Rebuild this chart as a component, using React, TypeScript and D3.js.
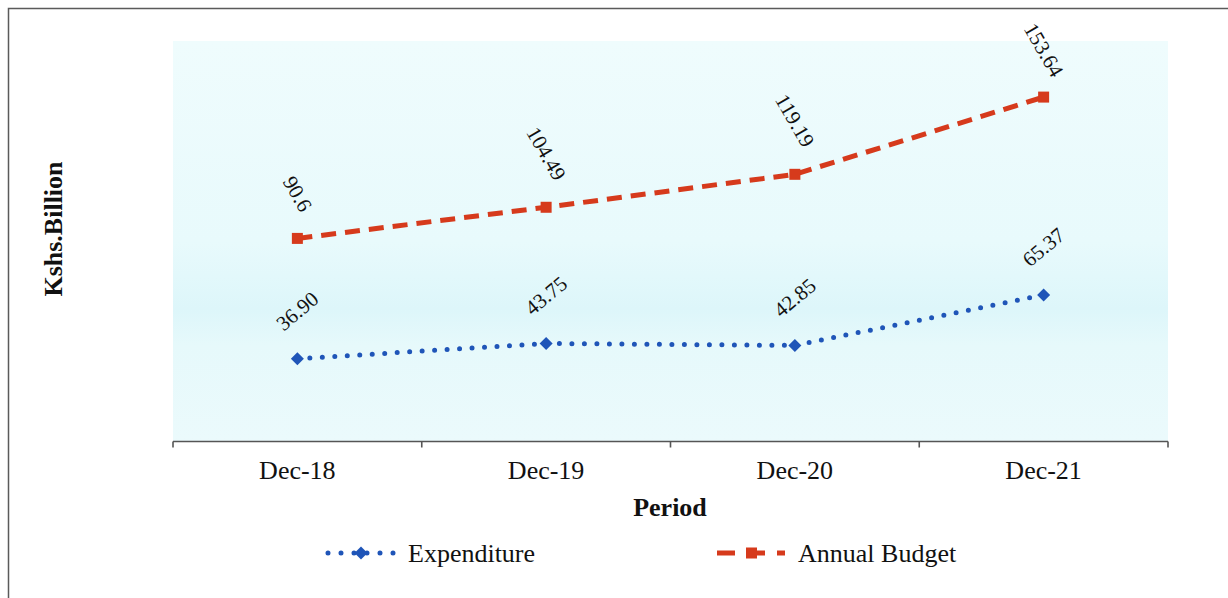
import React from "react";
import * as d3 from "d3";

const categories = ["Dec-18", "Dec-19", "Dec-20", "Dec-21"];
const expenditure = [36.9, 43.75, 42.85, 65.37];
const expenditureLabels = ["36.90", "43.75", "42.85", "65.37"];
const annualBudget = [90.6, 104.49, 119.19, 153.64];
const budgetLabels = ["90.6", "104.49", "119.19", "153.64"];
const yDomain = [0, 180];

const W = 1228;
const H = 598;
const plot = { left: 173, right: 1168, top: 38, bottom: 441.5, bgTop: 41 };
const RED = "#d63a1c";
const BLUE = "#1f55b8";
const FONT = "'Liberation Serif', 'Times New Roman', serif";
const LABEL_SIZE = 21;

function textLen(s: string, size: number) {
  let w = 0;
  for (const ch of s) w += ch === "." ? 0.25 : 0.5;
  return w * size;
}

function labelCenter(px: number, py: number, s: string, angleDeg: number, gap: number) {
  const a = (Math.abs(angleDeg) * Math.PI) / 180;
  const L = textLen(s, LABEL_SIZE);
  const h = 0.68 * LABEL_SIZE;
  const bboxH = L * Math.sin(a) + h * Math.cos(a);
  return [px, py - gap - bboxH / 2];
}

export default function App() {
  const x = d3.scaleBand<string>().domain(categories).range([plot.left, plot.right]).padding(0);
  const y = d3.scaleLinear().domain(yDomain).range([plot.bottom, plot.top]);
  const cx = (c: string) => (x(c) as number) + x.bandwidth() / 2;

  const line = d3
    .line<number>()
    .x((_, i) => cx(categories[i]))
    .y((d) => y(d));

  const tickPositions = [...categories.map((c) => x(c) as number), plot.right];

  const diamond = (px: number, py: number, r: number) =>
    `M${px},${py - r}L${px + r},${py}L${px},${py + r}L${px - r},${py}Z`;

  return (
    <svg
      width={W}
      height={H}
      style={{ position: "absolute", left: 0, top: 0, background: "#fff" }}
      fontFamily={FONT}
    >
      <defs>
        <linearGradient id="bg" x1="0" y1="0" x2="0" y2="1">
          <stop offset="0%" stopColor="#effcfd" />
          <stop offset="50%" stopColor="#e8fafc" />
          <stop offset="67%" stopColor="#ddf6fa" />
          <stop offset="76%" stopColor="#e6f9fb" />
          <stop offset="100%" stopColor="#ebfafc" />
        </linearGradient>
      </defs>
      <rect x={0} y={0} width={W} height={H} fill="#fff" />
      <rect x={8.5} y={8.5} width={W + 10} height={H + 10} fill="none" stroke="#5a5a5a" strokeWidth={1.5} />
      <rect
        x={plot.left}
        y={plot.bgTop}
        width={plot.right - plot.left}
        height={plot.bottom - plot.bgTop}
        fill="url(#bg)"
      />

      {/* axis */}
      <line x1={plot.left} x2={plot.right} y1={plot.bottom} y2={plot.bottom} stroke="#555" strokeWidth={1.6} />
      {tickPositions.map((t, i) => (
        <line key={i} x1={t} x2={t} y1={plot.bottom} y2={plot.bottom + 6} stroke="#555" strokeWidth={1.6} />
      ))}
      {categories.map((c) => (
        <text key={c} x={cx(c)} y={479} textAnchor="middle" fontSize={26} fill="#111">
          {c}
        </text>
      ))}
      <text x={670} y={516} textAnchor="middle" fontSize={26} fontWeight="bold" fill="#111">
        Period
      </text>
      <text
        transform={`translate(62,229) rotate(-90)`}
        textAnchor="middle"
        fontSize={26}
        fontWeight="bold"
        fill="#111"
      >
        Kshs.Billion
      </text>

      {/* budget */}
      <path d={line(annualBudget) || ""} fill="none" stroke={RED} strokeWidth={5} strokeDasharray="15 9" />
      {annualBudget.map((v, i) => {
        const px = cx(categories[i]);
        const py = y(v);
        return <rect key={i} x={px - 5.5} y={py - 5.5} width={11} height={11} fill={RED} />;
      })}
      {annualBudget.map((v, i) => {
        const [lx, ly] = labelCenter(cx(categories[i]), y(v), budgetLabels[i], 60, 25);
        return (
          <text
            key={i}
            transform={`translate(${lx},${Math.max(ly, 50)}) rotate(60)`}
            textAnchor="middle"
            dominantBaseline="central"
            fontSize={LABEL_SIZE}
            fill="#111"
          >
            {budgetLabels[i]}
          </text>
        );
      })}

      {/* expenditure */}
      <path
        d={line(expenditure) || ""}
        fill="none"
        stroke={BLUE}
        strokeWidth={5}
        strokeDasharray="0 12.5"
        strokeLinecap="round"
      />
      {expenditure.map((v, i) => (
        <path key={i} d={diamond(cx(categories[i]), y(v), 6.5)} fill={BLUE} />
      ))}
      {expenditure.map((v, i) => {
        const [lx, ly] = labelCenter(cx(categories[i]), y(v), expenditureLabels[i], -40, 27);
        return (
          <text
            key={i}
            transform={`translate(${lx},${ly}) rotate(-40)`}
            textAnchor="middle"
            dominantBaseline="central"
            fontSize={LABEL_SIZE}
            fill="#111"
          >
            {expenditureLabels[i]}
          </text>
        );
      })}

      {/* legend */}
      <line
        x1={328}
        x2={394}
        y1={553}
        y2={553}
        stroke={BLUE}
        strokeWidth={5}
        strokeDasharray="0 13"
        strokeLinecap="round"
      />
      <path d={diamond(361, 553, 6.5)} fill={BLUE} />
      <text x={408} y={562} fontSize={26} fill="#111">
        Expenditure
      </text>
      <line x1={717} x2={785} y1={553} y2={553} stroke={RED} strokeWidth={5} strokeDasharray="18 12" />
      <rect x={746} y={547.5} width={11} height={11} fill={RED} />
      <text x={798} y={562} fontSize={26} fill="#111">
        Annual Budget
      </text>
    </svg>
  );
}
